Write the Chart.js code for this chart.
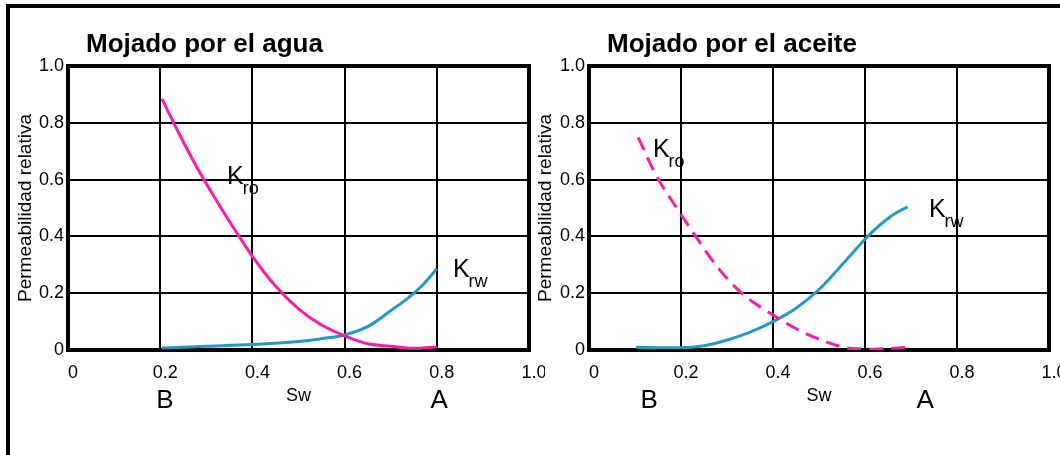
<!DOCTYPE html>
<html>
<head>
<meta charset="utf-8">
<script src="https://cdn.jsdelivr.net/npm/chart.js@4.4.1/dist/chart.umd.min.js"></script>
<style>
  html, body { margin: 0; padding: 0; background: #fff; overflow: hidden; }
  body { width: 1060px; height: 455px; position: relative; }
  #frame { position: absolute; left: 6px; top: 4px; width: 1200px; height: 600px;
           border-left: 4px solid #000; border-top: 4px solid #000; }
  canvas { position: absolute; top: 0; }
</style>
</head>
<body>
<div id="frame"></div>
<canvas id="agua" width="545" height="455" style="left:0"></canvas>
<canvas id="aceite" width="540" height="455" style="left:520px"></canvas>
<script>
// tick labels shared by both panels
const tickLabels = ['0', '0.2', '0.4', '0.6', '0.8', '1.0'];

// Mojado por el agua
const swKroAgua = [0.204, 0.24, 0.28, 0.32, 0.36, 0.4, 0.45, 0.5, 0.55, 0.6, 0.65, 0.7, 0.75, 0.8];
const kroAgua   = [0.884, 0.765, 0.642, 0.532, 0.428, 0.33, 0.225, 0.145, 0.088, 0.05, 0.022, 0.013, 0.006, 0.011];
const swKrwAgua = [0.204, 0.3, 0.4, 0.5, 0.55, 0.6, 0.653, 0.7, 0.74, 0.77, 0.8];
const krwAgua   = [0.007, 0.013, 0.019, 0.03, 0.04, 0.053, 0.085, 0.138, 0.186, 0.23, 0.286];

// Mojado por el aceite
const swKroAceite = [0.107, 0.143, 0.2, 0.232, 0.28, 0.332, 0.4, 0.45, 0.502, 0.567, 0.616, 0.65, 0.689];
const kroAceite   = [0.749, 0.624, 0.477, 0.4, 0.29, 0.2, 0.123, 0.075, 0.037, 0.006, 0.003, 0.005, 0.01];
const swKrwAceite = [0.102, 0.196, 0.25, 0.304, 0.35, 0.4, 0.45, 0.5, 0.55, 0.6, 0.62, 0.645, 0.67, 0.693];
const krwAceite   = [0.01, 0.008, 0.015, 0.037, 0.063, 0.1, 0.147, 0.213, 0.3, 0.39, 0.422, 0.457, 0.485, 0.504];

const FONT = "Arial, 'Liberation Sans', sans-serif";
const PINK = '#fc1ca8';
const BLUE = '#2399c6';

const pts = (xs, ys) => xs.map((x, i) => ({ x, y: ys[i] }));

// frame under the curves; title, K labels and B / A marks on top
const decor = {
  id: 'decor',
  beforeDatasetsDraw(chart) {
    const { ctx, chartArea: a } = chart;
    ctx.save();
    ctx.lineWidth = 4;
    ctx.strokeStyle = '#000';
    ctx.strokeRect(a.left, a.top, a.right - a.left, a.bottom - a.top);
    ctx.restore();
  },
  afterDatasetsDraw(chart, args, opts) {
    const { ctx, chartArea: a, scales: { x, y } } = chart;
    ctx.save();
    ctx.fillStyle = '#000';
    ctx.textAlign = 'left';
    ctx.textBaseline = 'alphabetic';
    ctx.font = 'bold 26px ' + FONT;
    ctx.fillText(opts.title, a.left + 18, 52);

    opts.kLabels.forEach(k => {
      const px = x.getPixelForValue(k.x), py = y.getPixelForValue(k.y);
      ctx.font = '25px ' + FONT;
      ctx.fillText('K', px, py);
      const w = ctx.measureText('K').width;
      ctx.font = '18px ' + FONT;
      ctx.fillText(k.sub, px + w - 1, py + 10);
    });

    ctx.font = '26px ' + FONT;
    ctx.textAlign = 'center';
    opts.ends.forEach(e => ctx.fillText(e.text, x.getPixelForValue(e.x), a.bottom + 58));
    ctx.restore();
  }
};

function makeChart(id, datasets, yWidth, padRight, decorOpts) {
  return new Chart(document.getElementById(id), {
    type: 'line',
    data: { datasets },
    options: {
      responsive: false,
      animation: false,
      layout: { padding: { left: 8, right: padRight, top: 66, bottom: 0 } },
      plugins: { legend: { display: false }, tooltip: { enabled: false }, decor: decorOpts },
      elements: { point: { radius: 0 }, line: { borderWidth: 3, cubicInterpolationMode: 'monotone' } },
      scales: {
        x: {
          type: 'linear', min: 0, max: 1,
          afterFit: s => { s.height = 105; s.paddingRight = 0; s.paddingLeft = 0; },
          grid: { color: '#000', lineWidth: 2, drawTicks: false },
          border: { display: false },
          ticks: { stepSize: 0.2, padding: 12, labelOffset: 5, color: '#000',
                   font: { family: FONT, size: 18 }, callback: (v, i) => tickLabels[i] },
          title: { display: true, text: 'Sw', color: '#000',
                   font: { family: FONT, size: 18 }, padding: { top: 0, bottom: 48 } }
        },
        y: {
          min: 0, max: 1,
          afterFit: s => { s.width = yWidth; },
          grid: { color: '#000', lineWidth: 2, drawTicks: false },
          border: { display: false },
          ticks: { stepSize: 0.2, padding: 4, color: '#000',
                   font: { family: FONT, size: 18 }, callback: (v, i) => tickLabels[i] },
          title: { display: true, text: 'Permeabilidad relativa', color: '#000',
                   font: { family: FONT, size: 19 }, padding: { top: 6, bottom: 0 } }
        }
      }
    },
    plugins: [decor]
  });
}

makeChart('agua', [
  { label: 'Kro', data: pts(swKroAgua, kroAgua), borderColor: PINK },
  { label: 'Krw', data: pts(swKrwAgua, krwAgua), borderColor: BLUE }
], 60, 16, {
  title: 'Mojado por el agua',
  kLabels: [{ x: 0.345, y: 0.585, sub: 'ro' }, { x: 0.835, y: 0.257, sub: 'rw' }],
  ends: [{ text: 'B', x: 0.21 }, { text: 'A', x: 0.805 }]
});

makeChart('aceite', [
  { label: 'Kro', data: pts(swKroAceite, kroAceite), borderColor: PINK, borderDash: [14, 8] },
  { label: 'Krw', data: pts(swKrwAceite, krwAceite), borderColor: BLUE }
], 61, 11, {
  title: 'Mojado por el aceite',
  kLabels: [{ x: 0.139, y: 0.68, sub: 'ro' }, { x: 0.739, y: 0.47, sub: 'rw' }],
  ends: [{ text: 'B', x: 0.131 }, { text: 'A', x: 0.731 }]
});
</script>
</body>
</html>
